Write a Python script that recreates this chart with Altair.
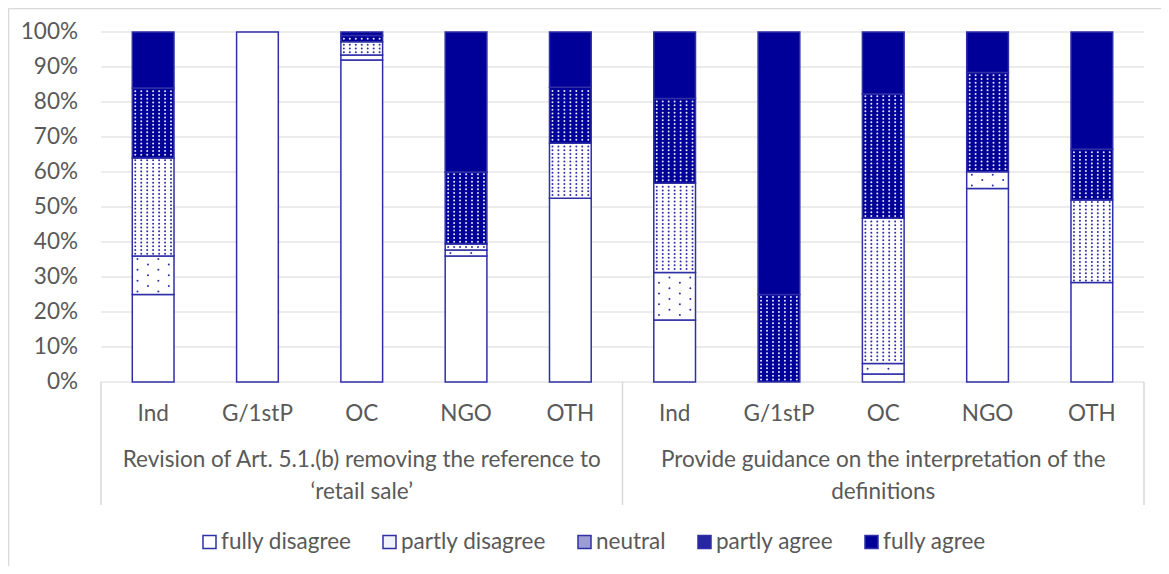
import altair as alt
import pandas as pd

# ---------------- data ----------------
groups = [
    "Revision of Art. 5.1.(b) removing the reference to\n\u2018retail sale\u2019",
    "Provide guidance on the interpretation of the\ndefinitions",
]
categories = ["Ind", "G/1stP", "OC", "NGO", "OTH"]
responses = ["fully disagree", "partly disagree", "neutral", "partly agree", "fully agree"]

fully_disagree = [25, 100, 92, 36, 52.5, 17.7, 0, 2.3, 55.3, 28.4]
partly_disagree = [11, 0, 1.4, 1.7, 0, 13.6, 0, 3.0, 4.8, 0]
neutral = [28, 0, 3.8, 1.7, 15.7, 25.5, 0, 41.5, 0, 23.6]
partly_agree = [20, 0, 1.8, 20.6, 16, 24.2, 25, 35.5, 28.3, 14.5]
fully_agree = [16, 0, 1.0, 40, 15.8, 19, 75, 17.7, 11.6, 33.5]
series = [fully_disagree, partly_disagree, neutral, partly_agree, fully_agree]

tick_values = [0, 10, 20, 30, 40, 50, 60, 70, 80, 90, 100]
tick_labels = ["0%", "10%", "20%", "30%", "40%", "50%", "60%", "70%", "80%", "90%", "100%"]

rows = []
for gi, g in enumerate(groups):
    for ci, c in enumerate(categories):
        idx = gi * len(categories) + ci
        for ri, r in enumerate(responses):
            rows.append(dict(idx=idx, group=gi, cat=c, resp=r, order=ri,
                             value=series[ri][idx]))
df = pd.DataFrame(rows)
df = df[df["value"] > 0]

n_cat = len(categories)
n_bars = len(groups) * n_cat
cat_df = pd.DataFrame({"cat": categories * len(groups),
                       "cx": [i + 0.5 for i in range(n_bars)]})
group_df = pd.DataFrame({"label": groups,
                         "gx": [gi * n_cat + n_cat / 2 for gi in range(len(groups))]})
sep_df = pd.DataFrame({"sx": [gi * n_cat for gi in range(len(groups) + 1)]})
tick_df = pd.DataFrame({"v": tick_values, "lab": tick_labels})
dummy = pd.DataFrame({"a": [0]})

# ---------------- style ----------------
FONT = "Lato"
FS = 22.5
TXT = "#595959"
GRID = "#d9d9d9"
BLUE = "#2f2fa8"
NAVY = "#000099"
W, H = 1043, 350

bar_fill = ["#ffffff", "#ffffff", "#ffffff", NAVY, NAVY]
legend_fill = ["#ffffff", "#f2f2fa", "#9c9cd6", "#2626a2", NAVY]
# legend entry left edges (pixels from plot left), legend row centre (pixels from plot top)
legend_left = [102, 282, 477, 597, 764]
LEG_Y = 510

legend_df = pd.DataFrame({"resp": responses, "lx": legend_left})

xscale = alt.Scale(domain=[0, n_bars], nice=False, zero=False)
yscale = alt.Scale(domain=[0, 100], nice=False, zero=True)

# ---------------- guides drawn as marks ----------------
grid = alt.Chart(tick_df).mark_rule(color=GRID, strokeWidth=1.2).encode(
    x=alt.value(0), x2=alt.value(W),
    y=alt.Y("v:Q", scale=yscale, axis=None),
)
ylabels = alt.Chart(tick_df).mark_text(
    font=FONT, fontSize=FS, color=TXT, align="right", baseline="middle", dx=-23,
).encode(
    x=alt.value(0),
    y=alt.Y("v:Q", scale=yscale, axis=None),
    text="lab:N",
)
xlabels = alt.Chart(cat_df).mark_text(
    font=FONT, fontSize=FS, color=TXT, align="center", baseline="middle",
).encode(
    x=alt.X("cx:Q", scale=xscale, axis=None),
    y=alt.value(H + 32),
    text="cat:N",
)

base = alt.Chart(df).transform_stack(
    stack="value", groupby=["idx"], as_=["y0", "y1"],
    sort=[alt.SortField("order", order="ascending")],
)

bars = base.transform_calculate(
    xa="datum.idx + 0.3", xb="datum.idx + 0.7"
).mark_bar(stroke=BLUE, strokeWidth=1.5).encode(
    x=alt.X("xa:Q", scale=xscale, axis=None),
    x2="xb:Q",
    y=alt.Y("y0:Q", scale=yscale, axis=None),
    y2="y1:Q",
    fill=alt.Fill("resp:N", scale=alt.Scale(domain=responses, range=bar_fill),
                  legend=None),
)

# dotted patterns inside the patterned segments
dots = base.transform_filter(
    "datum.resp == 'partly disagree' || datum.resp == 'neutral' || datum.resp == 'partly agree'"
).transform_calculate(
    dyp="datum.resp == 'partly disagree' ? 1.54 : 1.07",
).transform_calculate(
    nrow="floor((datum.y1 - datum.y0) / datum.dyp)",
    ncol="datum.resp == 'partly disagree' ? 2 : 7",
).transform_calculate(
    rowsq="sequence(0, datum.nrow)",
    colsq="sequence(0, datum.ncol)",
).transform_flatten(["rowsq"], as_=["row"]).transform_flatten(
    ["colsq"], as_=["col"]
).transform_calculate(
    py="datum.y0 + (datum.row + 0.5) * datum.dyp + ((datum.y1 - datum.y0) - datum.nrow * datum.dyp) / 2",
    px="datum.idx + 0.3 + 0.4 * (datum.resp == 'partly disagree' ? (2 * datum.col + (datum.row % 2) + 0.5) / 4 : (datum.col + 0.5) / 7)",
).mark_circle(size=4, opacity=1).encode(
    x=alt.X("px:Q", scale=xscale, axis=None),
    y=alt.Y("py:Q", scale=yscale, axis=None),
    fill=alt.condition("datum.resp == 'partly agree'", alt.value("#e6e6f6"), alt.value(BLUE)),
)

seps = alt.Chart(sep_df).mark_rule(color=GRID, strokeWidth=1.5).encode(
    x=alt.X("sx:Q", scale=xscale, axis=None),
    y=alt.value(H),
    y2=alt.value(H + 123),
)

glabels = alt.Chart(group_df).mark_text(
    font=FONT, fontSize=FS, color=TXT, lineBreak="\n", lineHeight=32,
    align="center", baseline="middle",
).encode(
    x=alt.X("gx:Q", scale=xscale, axis=None),
    y=alt.value(H + 78),
    text="label:N",
)

# legend (symbols + labels)
leg_sym = alt.Chart(legend_df).mark_square(
    size=169, stroke=BLUE, strokeWidth=1.5, opacity=1, xOffset=6.5,
).encode(
    x=alt.X("lx:Q", scale=None),
    y=alt.value(LEG_Y),
    color=alt.Color("resp:N", scale=alt.Scale(domain=responses, range=legend_fill),
                    legend=None),
)
leg_txt = alt.Chart(legend_df).mark_text(
    font=FONT, fontSize=FS, color=TXT, align="left", baseline="middle", dx=18,
).encode(
    x=alt.X("lx:Q", scale=None),
    y=alt.value(LEG_Y),
    text="resp:N",
)

frame_left = alt.Chart(dummy).mark_rule(color=GRID, strokeWidth=1.5).encode(
    x=alt.value(-92.5), y=alt.value(-23.5), y2=alt.value(560)
)
frame_top = alt.Chart(dummy).mark_rule(color=GRID, strokeWidth=1.5).encode(
    x=alt.value(-92.5), x2=alt.value(W + 20), y=alt.value(-23.5)
)

chart = alt.layer(
    grid, ylabels, xlabels, seps, bars, dots, glabels, leg_sym, leg_txt,
    frame_left, frame_top,
).properties(
    width=W, height=H,
    autosize=alt.AutoSizeParams(type="none"),
    padding={"left": 93, "top": 24, "right": 17, "bottom": 184},
    background="white",
).configure_view(stroke=None)

chart.save("out.html", embed_options={"renderer": "svg", "actions": False})
